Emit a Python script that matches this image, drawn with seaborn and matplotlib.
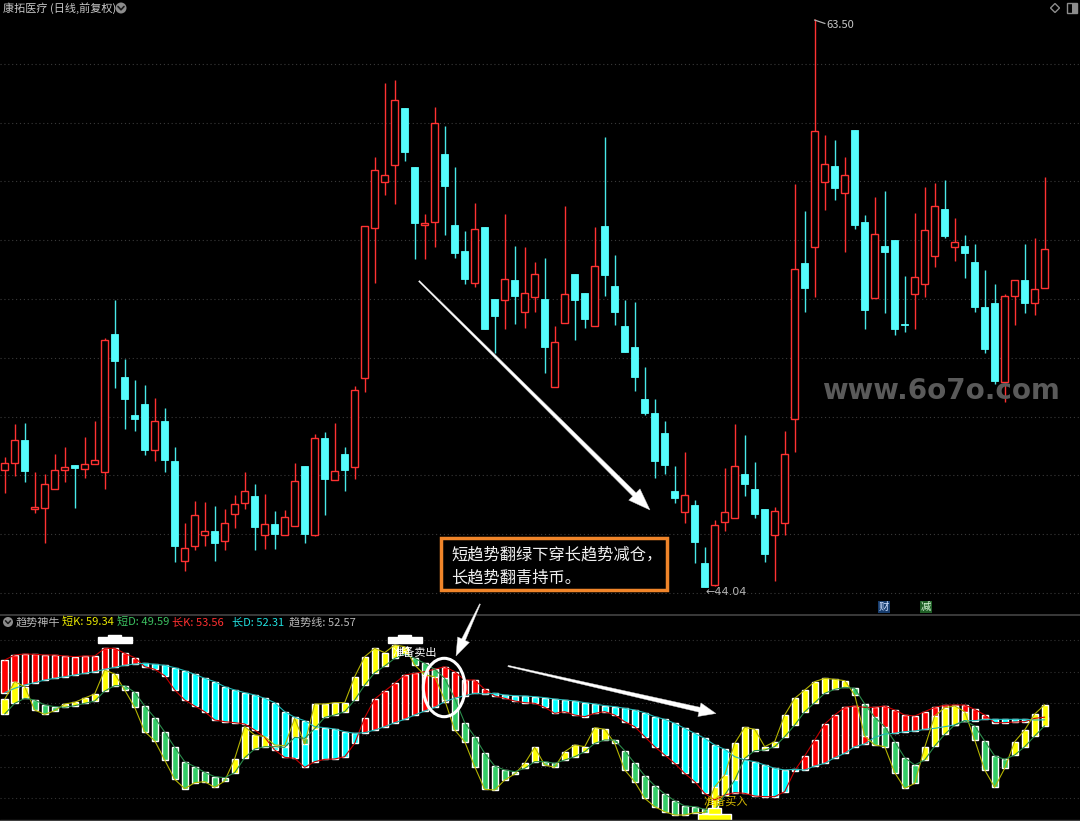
import matplotlib
matplotlib.use("Agg")
import matplotlib.pyplot as plt
import seaborn as sns
import numpy as np
from matplotlib.patches import Polygon, Ellipse, Rectangle
from matplotlib.lines import Line2D

# ---------------- data ----------------
opens = [48.07, 48.31, 49.08, 46.74, 46.75, 47.40, 48.06, 48.23, 48.09, 48.28,
         48.01, 52.72, 51.24, 49.94, 50.33, 48.74, 49.74, 48.37, 44.94, 45.47,
         45.83, 45.97, 45.62, 46.55, 46.93, 47.17, 45.84, 46.21, 45.84, 46.16,
         48.19, 45.84, 49.17, 47.72, 48.60, 48.16, 51.21, 56.35, 57.94, 58.52,
         60.48, 58.44, 56.45, 56.57, 58.89, 56.46, 55.57, 54.46, 56.39, 53.92,
         53.88, 54.58, 53.47, 53.98, 53.92, 50.90, 53.09, 54.78, 54.12, 53.00,
         56.43, 54.36, 53.01, 52.28, 50.49, 50.03, 49.32, 47.35, 46.64, 46.86,
         44.87, 44.12, 46.27, 46.41, 47.92, 47.40, 46.73, 45.84, 46.24, 49.80,
         55.15, 55.72, 57.93, 58.47, 57.55, 59.71, 56.55, 53.95, 55.75, 55.93,
         53.06, 54.09, 54.45, 55.41, 57.01, 55.72, 55.73, 55.20, 53.66, 53.78,
         51.09, 54.03, 54.57, 53.80, 54.29]
highs = [48.50, 49.64, 49.67, 47.99, 47.92, 48.60, 48.84, 48.23, 49.20, 49.74,
         52.58, 53.89, 51.88, 51.15, 50.97, 50.54, 50.18, 48.84, 46.24, 47.00,
         46.97, 46.83, 46.73, 47.20, 48.01, 47.59, 47.23, 46.65, 46.71, 48.32,
         48.19, 49.30, 49.36, 49.69, 48.84, 50.94, 56.43, 58.80, 61.31, 61.43,
         60.48, 58.44, 56.83, 60.51, 59.85, 58.44, 56.24, 57.21, 56.39, 53.92,
         56.85, 55.73, 55.71, 55.18, 55.32, 53.00, 57.10, 54.78, 54.12, 56.39,
         59.46, 55.43, 53.90, 53.81, 51.59, 50.49, 49.74, 48.20, 48.68, 47.04,
         45.42, 46.35, 48.13, 49.65, 49.27, 48.34, 46.73, 46.79, 49.41, 57.86,
         56.95, 63.50, 59.54, 59.36, 58.78, 59.71, 56.80, 57.41, 57.61, 55.93,
         54.72, 56.88, 57.76, 57.90, 57.99, 56.69, 56.12, 55.81, 54.92, 54.44,
         54.09, 54.57, 55.81, 56.00, 58.09]
lows = [47.29, 47.87, 47.67, 46.58, 45.55, 47.40, 47.67, 46.77, 47.78, 48.28,
        47.42, 50.89, 49.48, 49.40, 48.57, 48.39, 47.99, 44.92, 44.62, 45.33,
        45.47, 44.95, 45.33, 46.08, 46.74, 45.32, 45.35, 45.37, 45.84, 46.16,
        45.55, 45.80, 46.53, 47.72, 47.36, 47.76, 50.73, 54.48, 57.48, 57.17,
        58.66, 55.30, 55.30, 55.72, 56.13, 55.34, 54.43, 54.33, 52.91, 52.06,
        52.89, 53.08, 52.94, 53.49, 51.40, 50.90, 53.09, 52.51, 52.94, 53.00,
        54.04, 53.02, 52.12, 50.78, 49.95, 47.78, 47.94, 46.92, 46.26, 44.87,
        44.04, 44.10, 45.97, 46.41, 47.17, 46.41, 44.92, 44.27, 45.84, 48.69,
        53.49, 54.00, 56.97, 57.32, 55.55, 56.31, 52.90, 53.95, 53.45, 52.69,
        52.78, 52.90, 54.00, 55.03, 56.00, 55.23, 54.63, 53.49, 52.06, 51.00,
        50.41, 53.03, 53.43, 53.38, 54.29]
closes = [48.32, 49.08, 48.03, 46.79, 47.58, 48.07, 48.18, 48.12, 48.28, 48.40,
          52.52, 51.81, 50.50, 49.80, 48.76, 49.73, 48.40, 45.47, 45.38, 46.51,
          45.97, 45.55, 46.24, 46.89, 47.34, 46.10, 46.21, 45.87, 46.45, 47.68,
          45.87, 49.16, 47.76, 48.04, 48.06, 50.81, 56.43, 58.34, 58.16, 60.74,
          58.97, 56.54, 56.54, 59.94, 57.81, 55.50, 54.61, 56.33, 52.91, 53.33,
          54.60, 54.04, 54.13, 54.77, 52.29, 52.45, 54.11, 53.89, 53.24, 55.04,
          54.74, 53.47, 52.12, 51.26, 50.03, 48.38, 48.25, 47.12, 47.22, 45.59,
          44.05, 46.17, 46.62, 48.20, 47.58, 46.57, 45.20, 46.65, 48.61, 54.94,
          54.31, 59.68, 58.56, 57.72, 58.16, 56.46, 53.55, 56.14, 55.52, 52.90,
          53.02, 54.69, 56.28, 57.10, 56.09, 55.87, 55.49, 53.66, 52.20, 51.12,
          54.03, 54.57, 53.80, 54.28, 55.64]

long_k = [80.08, 82.40, 82.86, 82.71, 82.40, 82.40, 81.93, 81.62, 81.93, 81.93,
          85.49, 85.49, 83.17, 81.16, 76.98, 75.75, 72.81, 66.15, 61.51, 58.73,
          56.10, 52.23, 51.46, 50.99, 50.37, 47.59, 44.19, 38.31, 34.90, 34.44,
          30.26, 32.89, 33.98, 34.13, 35.21, 41.40, 53.31, 61.98, 65.69, 69.25,
          73.12, 73.89, 74.66, 75.75, 76.98, 74.66, 70.79, 70.79, 66.46, 63.37,
          62.29, 61.05, 60.28, 59.97, 58.11, 55.32, 56.10, 54.55, 53.78, 55.32,
          56.10, 54.55, 51.46, 49.14, 44.50, 39.85, 35.99, 32.12, 27.48, 23.61,
          18.20, 15.10, 17.42, 18.51, 18.20, 16.96, 16.65, 16.65, 18.97, 28.72,
          35.52, 42.95, 50.37, 54.55, 58.11, 58.73, 58.11, 58.11, 58.73, 56.87,
          54.55, 54.09, 56.10, 58.11, 59.04, 59.19, 59.19, 57.18, 54.55, 50.99,
          50.99, 51.30, 51.46, 53.00, 53.56]
long_d = [64.92, 66.93, 68.47, 69.56, 70.79, 71.57, 72.34, 73.12, 73.89, 74.66,
          75.75, 76.67, 77.60, 78.22, 78.53, 78.07, 77.60, 76.52, 75.13, 73.42,
          71.57, 70.02, 67.70, 66.15, 64.92, 63.83, 62.29, 60.28, 56.10, 53.47,
          51.92, 49.14, 48.67, 48.05, 46.82, 46.04, 46.35, 47.59, 49.14, 50.99,
          52.54, 54.55, 56.41, 58.11, 60.74, 62.29, 63.52, 64.61, 64.30, 64.61,
          63.83, 63.52, 63.37, 63.06, 62.60, 61.98, 61.51, 61.05, 60.28, 59.66,
          58.88, 58.42, 57.65, 56.87, 55.63, 53.78, 52.54, 50.68, 48.36, 46.04,
          43.72, 40.63, 38.62, 35.21, 33.67, 32.89, 31.35, 29.80, 29.03, 29.34,
          29.03, 30.88, 32.12, 34.75, 36.76, 39.85, 41.09, 44.19, 45.73, 46.04,
          46.82, 47.13, 47.90, 48.36, 49.14, 49.91, 51.92, 51.92, 52.54, 52.54,
          52.54, 52.54, 52.54, 52.23, 52.31]
short_k = [61.82, 70.02, 67.70, 56.87, 54.86, 56.56, 59.66, 60.43, 62.44, 64.30,
           75.44, 73.58, 66.15, 58.11, 46.82, 42.64, 33.67, 24.69, 20.36, 23.15,
           23.61, 20.98, 23.92, 34.29, 49.14, 45.27, 44.50, 40.63, 40.32, 53.00,
           41.09, 59.66, 59.66, 60.28, 60.28, 72.34, 81.62, 85.49, 83.48, 87.04,
           86.26, 77.76, 73.12, 72.34, 61.51, 47.59, 42.18, 30.57, 20.05, 19.74,
           24.38, 27.17, 32.12, 39.55, 31.35, 30.26, 37.53, 40.63, 39.85, 48.67,
           47.90, 41.40, 29.03, 23.61, 15.88, 12.01, 9.69, 8.14, 8.14, 9.22,
           9.22, 21.29, 26.71, 41.40, 48.83, 47.90, 39.85, 42.18, 54.55, 62.29,
           66.15, 70.02, 71.57, 71.10, 70.49, 63.83, 44.81, 40.63, 39.85, 27.79,
           20.52, 22.84, 39.55, 54.09, 57.95, 58.73, 56.10, 42.95, 29.03, 20.98,
           29.80, 42.18, 47.59, 55.02, 59.34]
short_d = [55.02, 59.97, 62.29, 61.51, 59.19, 58.42, 58.11, 58.88, 59.97, 61.05,
           65.69, 68.17, 68.17, 65.07, 58.73, 53.31, 46.66, 39.55, 32.89, 30.57,
           27.94, 25.93, 25.47, 27.79, 34.75, 38.77, 39.85, 39.85, 39.55, 44.19,
           43.72, 48.21, 53.47, 54.55, 56.10, 61.51, 68.47, 74.20, 77.29, 80.85,
           82.86, 80.85, 78.53, 75.75, 71.57, 62.29, 50.99, 44.50, 36.76, 30.88,
           29.03, 28.25, 29.80, 32.89, 32.89, 32.12, 33.67, 35.21, 37.53, 41.40,
           42.95, 42.95, 38.00, 32.12, 26.40, 21.76, 17.89, 14.79, 12.32, 12.01,
           10.77, 10.46, 17.42, 24.38, 34.44, 38.00, 38.31, 39.85, 44.50, 49.91,
           56.10, 60.28, 64.61, 66.46, 67.39, 66.93, 59.66, 53.47, 49.14, 42.18,
           34.75, 31.35, 33.67, 40.16, 45.58, 49.91, 51.92, 49.45, 42.48, 35.52,
           33.98, 35.99, 39.85, 44.81, 49.59]
sell_signals = [11, 40]
buy_signals = [71]
price_grid = [61.98, 59.97, 57.95, 55.94, 53.92, 51.91, 49.89, 47.88, 45.86, 43.85]
ind_grid = [89.36, 74.66, 59.97, 45.27, 30.57, 15.88]
high_label = "63.50"
low_label = "44.04"
legend_items = [("趋势神牛", "#b8b8b8"), ("短K: 59.34", "#e8e800"), ("短D: 49.59", "#3cc060"),
                ("长K: 53.56", "#ff3030"), ("长D: 52.31", "#20e0e0"), ("趋势线: 52.57", "#b8b8b8")]

# ---------------- style ----------------
sns.set_theme(style="dark", rc={"axes.facecolor": "black", "figure.facecolor": "black",
                                "savefig.facecolor": "black", "axes.grid": False})
plt.rcParams["font.family"] = ["Noto Sans CJK SC", "DejaVu Sans"]

W, H = 1080, 821
fig = plt.figure(figsize=(W / 100, H / 100), dpi=100)


def fx(x):
    return x / W


def fy(y):
    return 1 - y / H


ax = fig.add_axes([0, 207 / H, 1, 614 / H])
ax2 = fig.add_axes([0, 0, 1, 206 / H])
for a in (ax, ax2):
    a.set_facecolor("black")
    for s in a.spines.values():
        s.set_visible(False)

RED = "#ff3232"
CYAN = "#54fcfc"

idx = np.arange(len(closes))
o = np.array(opens); c = np.array(closes); h = np.array(highs); l = np.array(lows)

for g in price_grid:
    ax.axhline(g, color="#3a3a3a", lw=0.8, ls=(0, (1, 2.5)), zorder=0)
for g in ind_grid:
    ax2.axhline(g, color="#333333", lw=0.8, ls=(0, (1, 2.5)), zorder=0)

up = c >= o
ax.vlines(idx[up], l[up], h[up], color=RED, lw=1, zorder=2)
ax.vlines(idx[~up], l[~up], h[~up], color="#48e8e8", lw=1, zorder=2)
body = np.maximum(np.abs(c - o), 0.035)
bot = np.minimum(o, c)
ax.bar(idx[up], body[up], bottom=bot[up], width=0.74, facecolor="black",
       edgecolor=RED, linewidth=1, zorder=3)
ax.bar(idx[~up], body[~up], bottom=bot[~up], width=0.74, color=CYAN,
       edgecolor=CYAN, linewidth=0.6, zorder=3)

# indicator
lk = np.array(long_k); ld = np.array(long_d); sk = np.array(short_k); sd = np.array(short_d)
lcol = ["#ff0000" if a >= b else "#00ffff" for a, b in zip(lk, ld)]
scol = ["#ffff00" if a >= b else "#33cc66" for a, b in zip(sk, sd)]
ax2.bar(idx, np.maximum(np.abs(lk - ld), 0.3), bottom=np.minimum(lk, ld), width=0.64,
        color=lcol, zorder=2)
ax2.bar(idx, np.maximum(np.abs(sk - sd), 0.3), bottom=np.minimum(sk, sd), width=0.64,
        color=scol, zorder=3)
sns.lineplot(x=idx, y=lk, ax=ax2, color="#c80000", lw=0.8, zorder=4)
sns.lineplot(x=idx, y=ld, ax=ax2, color="#20b8b8", lw=0.8, zorder=4)
sns.lineplot(x=idx, y=sk, ax=ax2, color="#b4b400", lw=0.8, zorder=4)
sns.lineplot(x=idx, y=sd, ax=ax2, color="#2a8a4a", lw=0.8, zorder=4)

for s in sell_signals:
    ax2.bar(s, 2.6, bottom=88.1, width=3.4, color="white", zorder=5)
    ax2.bar(s, 1.2, bottom=90.6, width=1.25, color="white", zorder=5)
for b in buy_signals:
    ax2.bar(b, 4.0, bottom=4.74, width=3.3, color="#ffff00", zorder=5)
    ax2.bar(b, 2.8, bottom=8.7, width=1.3, color="#ffff00", zorder=5)

ax2.text(41.0, 83.3, "准备卖出", color="white", fontsize=8, ha="center", va="center", zorder=6)
ax2.text(72.1, 14.2, "准备买入", color="#d4b800", fontsize=8, ha="center", va="center", zorder=6)

for a in (ax, ax2):
    a.set_xlim(-0.47, 107.53)
    a.set_xticks([]); a.set_yticks([])
    a.set_xlabel(""); a.set_ylabel("")
ax.set_ylim(43.132, 64.168)
ax2.set_ylim(5.36, 100.96)

# ---------------- annotations (figure pixels) ----------------
def arrow_poly(x0, y0, x1, y1, w0, w1, hw, hl, color="white"):
    p0 = np.array([x0, y0], float); p1 = np.array([x1, y1], float)
    d = p1 - p0; u = d / np.hypot(*d); n = np.array([-u[1], u[0]])
    pb = p1 - u * hl
    pts = [p0 + n * w0 / 2, pb + n * w1 / 2, pb + n * hw, p1, pb - n * hw, pb - n * w1 / 2, p0 - n * w0 / 2]
    pts = [(fx(p[0]), fy(p[1])) for p in pts]
    fig.add_artist(Polygon(pts, closed=True, transform=fig.transFigure, facecolor=color,
                           edgecolor="#cccccc", lw=0.3, zorder=10))


arrow_poly(419, 281, 650, 510, 1.4, 4.8, 8, 22)
arrow_poly(508, 666, 716, 713.5, 1.4, 5.0, 7, 17)
arrow_poly(480, 604, 456, 656, 1.0, 4.0, 6.5, 18)

fig.add_artist(Ellipse((fx(444.2), fy(687.5)), 41.7 / W, 58.4 / H, transform=fig.transFigure,
                       fill=False, edgecolor="white", lw=2.2, zorder=10))

# text box
fig.add_artist(Rectangle((fx(441), fy(590)), 226 / W, 52 / H, transform=fig.transFigure,
                         facecolor="black", edgecolor="#f0852a", lw=2.5, zorder=9))
fig.text(fx(451), fy(555), "短趋势翻绿下穿长趋势减仓，", color="#f0f0f0", fontsize=11.7,
         ha="left", va="center", zorder=11)
fig.text(fx(451), fy(578), "长趋势翻青持币。", color="#f0f0f0", fontsize=11.7,
         ha="left", va="center", zorder=11)

# title & icons
fig.text(fx(3), fy(8), "康拓医疗 (日线,前复权)", color="#c8c8c8", fontsize=8, ha="left", va="center")
fig.add_artist(Ellipse((fx(121), fy(8)), 11 / W, 11 / H, transform=fig.transFigure,
                       facecolor="#8c8c8c", edgecolor="none"))
fig.add_artist(Line2D([fx(118), fx(121), fx(124)], [fy(6.5), fy(9.8), fy(6.5)],
                      transform=fig.transFigure, color="#1a1a1a", lw=1.2))
fig.add_artist(Polygon([(fx(1055), fy(3.5)), (fx(1059.5), fy(8)), (fx(1055), fy(12.5)), (fx(1050.5), fy(8))],
                       closed=True, transform=fig.transFigure, fill=False, edgecolor="#8c8c8c", lw=1))
fig.add_artist(Rectangle((fx(1067), fy(13)), 10 / W, 10 / H, transform=fig.transFigure,
                         fill=False, edgecolor="#8c8c8c", lw=1))
fig.add_artist(Rectangle((fx(1072), fy(13)), 5 / W, 10 / H, transform=fig.transFigure,
                         facecolor="#8c8c8c", edgecolor="none"))

# high / low labels
fig.add_artist(Line2D([fx(814.5), fx(825)], [fy(20), fy(23.5)], transform=fig.transFigure,
                      color="#b0b0b0", lw=0.9))
fig.text(fx(826.5), fy(24.5), high_label, color="#c8c8c8", fontsize=8, ha="left", va="center")
fig.text(fx(705), fy(592), "←" + low_label, color="#b4b4b4", fontsize=8, ha="left", va="center",
         family=["DejaVu Sans"])

# watermark
fig.text(fx(822), fy(399), "www.6o7o.com", color="#5a5a5a", fontsize=20, fontweight="bold",
         family=["DejaVu Sans"], ha="left", va="baseline", zorder=1)

# small tags
fig.add_artist(Rectangle((fx(877.5), fy(613)), 12 / W, 12 / H, transform=fig.transFigure,
                         facecolor="#173d6e", edgecolor="none"))
fig.text(fx(883.5), fy(607), "财", color="#d0e0ff", fontsize=7.5, ha="center", va="center")
fig.add_artist(Rectangle((fx(919.5), fy(613)), 12 / W, 12 / H, transform=fig.transFigure,
                         facecolor="#1f5f26", edgecolor="none"))
fig.text(fx(925.5), fy(607), "减", color="#d8f8d8", fontsize=7.5, ha="center", va="center")

# panel separators
fig.add_artist(Line2D([0, 1], [fy(614.8), fy(614.8)], transform=fig.transFigure, color="#3a3a3a", lw=1.4))
fig.add_artist(Line2D([0, 1], [fy(820), fy(820)], transform=fig.transFigure, color="#404040", lw=1.0))

# indicator legend
fig.add_artist(Ellipse((fx(8), fy(622)), 10 / W, 10 / H, transform=fig.transFigure,
                       facecolor="#8c8c8c", edgecolor="none"))
fig.add_artist(Line2D([fx(5.5), fx(8), fx(10.5)], [fy(620.8), fy(623.5), fy(620.8)],
                      transform=fig.transFigure, color="#1a1a1a", lw=1.1))
leg_x = [16, 62, 117, 172, 232, 289]
for (txt, col), xx in zip(legend_items, leg_x):
    fig.text(fx(xx), fy(622), txt, color=col, fontsize=8, ha="left", va="center")

fig.savefig("out.png", dpi=100, facecolor="black")
